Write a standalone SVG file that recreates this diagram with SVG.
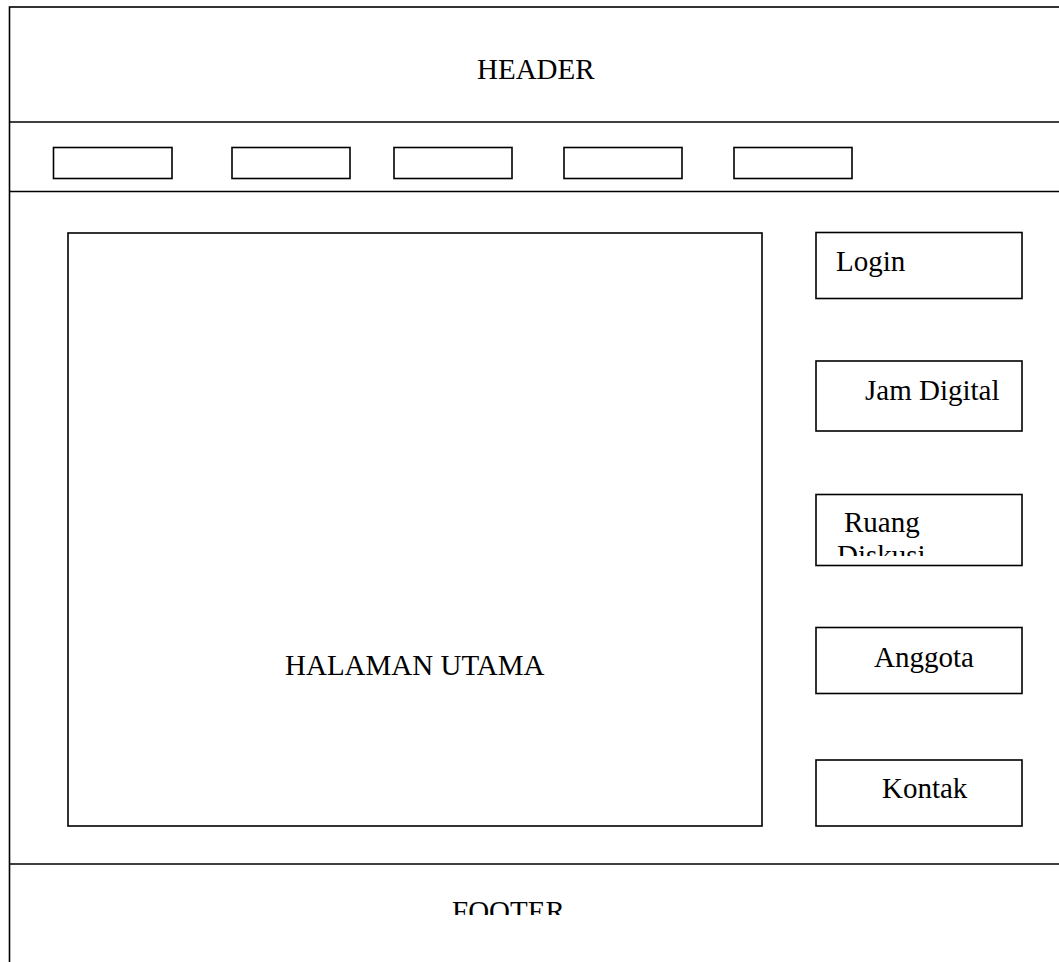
<svg xmlns="http://www.w3.org/2000/svg" width="1059" height="962" viewBox="0 0 1059 962">
<style>
.b{fill:none;stroke:#000;stroke-width:1.6}
.t{font-family:"Liberation Serif","Times New Roman",serif;font-size:29px;fill:#000}
</style>
<defs>
<clipPath id="cr"><rect x="816" y="494" width="206" height="62"/></clipPath>
<clipPath id="cf"><rect x="0" y="865" width="1059" height="50"/></clipPath>
</defs>
<rect width="1059" height="962" fill="#fff"/>
<g id="frame">
<rect class="b" x="9.5" y="7" width="1070" height="980"/>
<line class="b" x1="9.5" y1="122" x2="1059" y2="122"/>
<line class="b" x1="9.5" y1="191.5" x2="1059" y2="191.5"/>
<line class="b" x1="9.5" y1="864" x2="1059" y2="864"/>
</g>
<g id="header"><text class="t" x="477" y="78.5">HEADER</text></g>
<g id="nav">
<rect class="b" x="53.5" y="147.5" width="118.5" height="31"/>
<rect class="b" x="232" y="147.5" width="118" height="31"/>
<rect class="b" x="394" y="147.5" width="118" height="31"/>
<rect class="b" x="564" y="147.5" width="118" height="31"/>
<rect class="b" x="734" y="147.5" width="118" height="31"/>
</g>
<g id="main">
<rect class="b" x="68" y="233" width="694" height="593"/>
<text class="t" x="285" y="675">HALAMAN UTAMA</text>
</g>
<g id="login">
<rect class="b" x="816" y="232.5" width="206" height="66"/>
<text class="t" x="836" y="271">Login</text>
</g>
<g id="jam">
<rect class="b" x="816" y="361" width="206" height="70"/>
<text class="t" x="865" y="400">Jam Digital</text>
</g>
<g id="ruang">
<rect class="b" x="816" y="494.5" width="206" height="71"/>
<g clip-path="url(#cr)">
<text class="t" x="844" y="532">Ruang</text>
<text class="t" x="837" y="565">Diskusi</text>
</g>
</g>
<g id="anggota">
<rect class="b" x="816" y="627.5" width="206" height="66"/>
<text class="t" x="874" y="667">Anggota</text>
</g>
<g id="kontak">
<rect class="b" x="816" y="760" width="206" height="66"/>
<text class="t" x="882" y="798">Kontak</text>
</g>
<g id="footer"><g clip-path="url(#cf)"><text class="t" x="452" y="921">FOOTER</text></g></g>
<g id="connectors"/>
</svg>
